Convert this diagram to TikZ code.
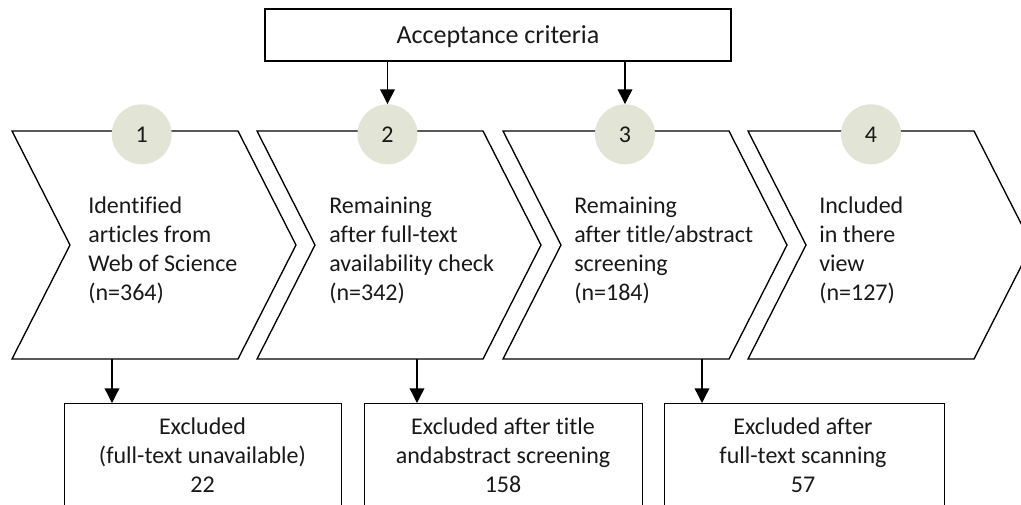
\documentclass[tikz,border=0pt]{standalone}
\usepackage{fontspec}
\setmainfont[Ligatures={NoCommon,NoRare,NoContextual}]{Carlito}
\usetikzlibrary{arrows.meta}
\definecolor{circfill}{RGB}{226,228,214}
\definecolor{txt}{RGB}{25,25,25}
\begin{document}
\begin{tikzpicture}[x=0.75pt,y=-0.75pt,
  line/.style={line width=1pt, draw=black, line join=miter},
  arr/.style={line width=1pt, -{Triangle[width=11pt,length=11pt]}},
  basefont/.style={font=\fontsize{18}{21.75}\selectfont, text=txt},
  numcirc/.style={circle, fill=circfill, minimum size=45pt, inner sep=0pt, basefont},
  chevtext/.style={anchor=base west, inner sep=0pt, basefont},
  boxtext/.style={anchor=base, inner sep=0pt, basefont},
  exbox/.style={draw, line width=1pt, anchor=north west, minimum height=90pt, inner sep=0pt}
]
\useasboundingbox (0,0) rectangle (1021,504);
\clip (0,0) rectangle (1021,504);

% acceptance criteria box
\node[draw, line width=1pt, minimum width=349.5pt, minimum height=39pt, inner sep=0pt,
      font=\fontsize{19.5}{23}\selectfont, text=txt, text height=13.5pt, text depth=1pt] (acc) at (498,35) {Acceptance criteria};

% chevrons
\foreach \x/\n in {12/1, 257/2, 503/3, 748/4}{
  \draw[line] (\x,131) -- ++(226,0) -- ++(58,114) -- ++(-58,114) -- ++(-226,0) -- ++(58,-114) -- cycle;
}

% number circles
\node[numcirc] (c1) at (141.7,134.3) {1};
\node[numcirc] (c2) at (387.5,134.3) {2};
\node[numcirc] (c3) at (625,134.3) {3};
\node[numcirc] (c4) at (871,134.3) {4};

% chevron texts
\node[chevtext] (t1) at (88,213) {\begin{tabular}[t]{@{}l@{}}Identified\\articles from\\Web of Science\\(n=364)\end{tabular}};
\node[chevtext] (t2) at (329,213) {\begin{tabular}[t]{@{}l@{}}Remaining\\after full-text\\availability check\\(n=342)\end{tabular}};
\node[chevtext] (t3) at (574,213) {\begin{tabular}[t]{@{}l@{}}Remaining\\after title/abstract\\screening\\(n=184)\end{tabular}};
\node[chevtext] (t4) at (819,213) {\begin{tabular}[t]{@{}l@{}}Included\\in there\\view\\(n=127)\end{tabular}};

% excluded boxes
\node[exbox, minimum width=207.75pt] (ex1) at (64,403) {};
\node[exbox, minimum width=208.5pt] (ex2) at (364,403) {};
\node[exbox, minimum width=210pt] (ex3) at (664,403) {};

\node[boxtext] (x1) at (202.5,434) {\begin{tabular}[t]{@{}c@{}}Excluded\\(full-text unavailable)\\22\end{tabular}};
\node[boxtext] (x2) at (503,434) {\begin{tabular}[t]{@{}c@{}}Excluded after title\\andabstract screening\\158\end{tabular}};
\node[boxtext] (x3) at (803,434) {\begin{tabular}[t]{@{}c@{}}Excluded after\\full-text scanning\\57\end{tabular}};

% chevron bottom points
\coordinate (b1) at (112,359);
\coordinate (b2) at (417,359);
\coordinate (b3) at (702,359);

% arrows
\draw[arr] (acc.south -| c2.north) -- (c2.north);
\draw[arr] (acc.south -| c3.north) -- (c3.north);
\draw[arr] (b1) -- (b1 |- ex1.north);
\draw[arr] (b2) -- (b2 |- ex2.north);
\draw[arr] (b3) -- (b3 |- ex3.north);
\end{tikzpicture}
\end{document}
